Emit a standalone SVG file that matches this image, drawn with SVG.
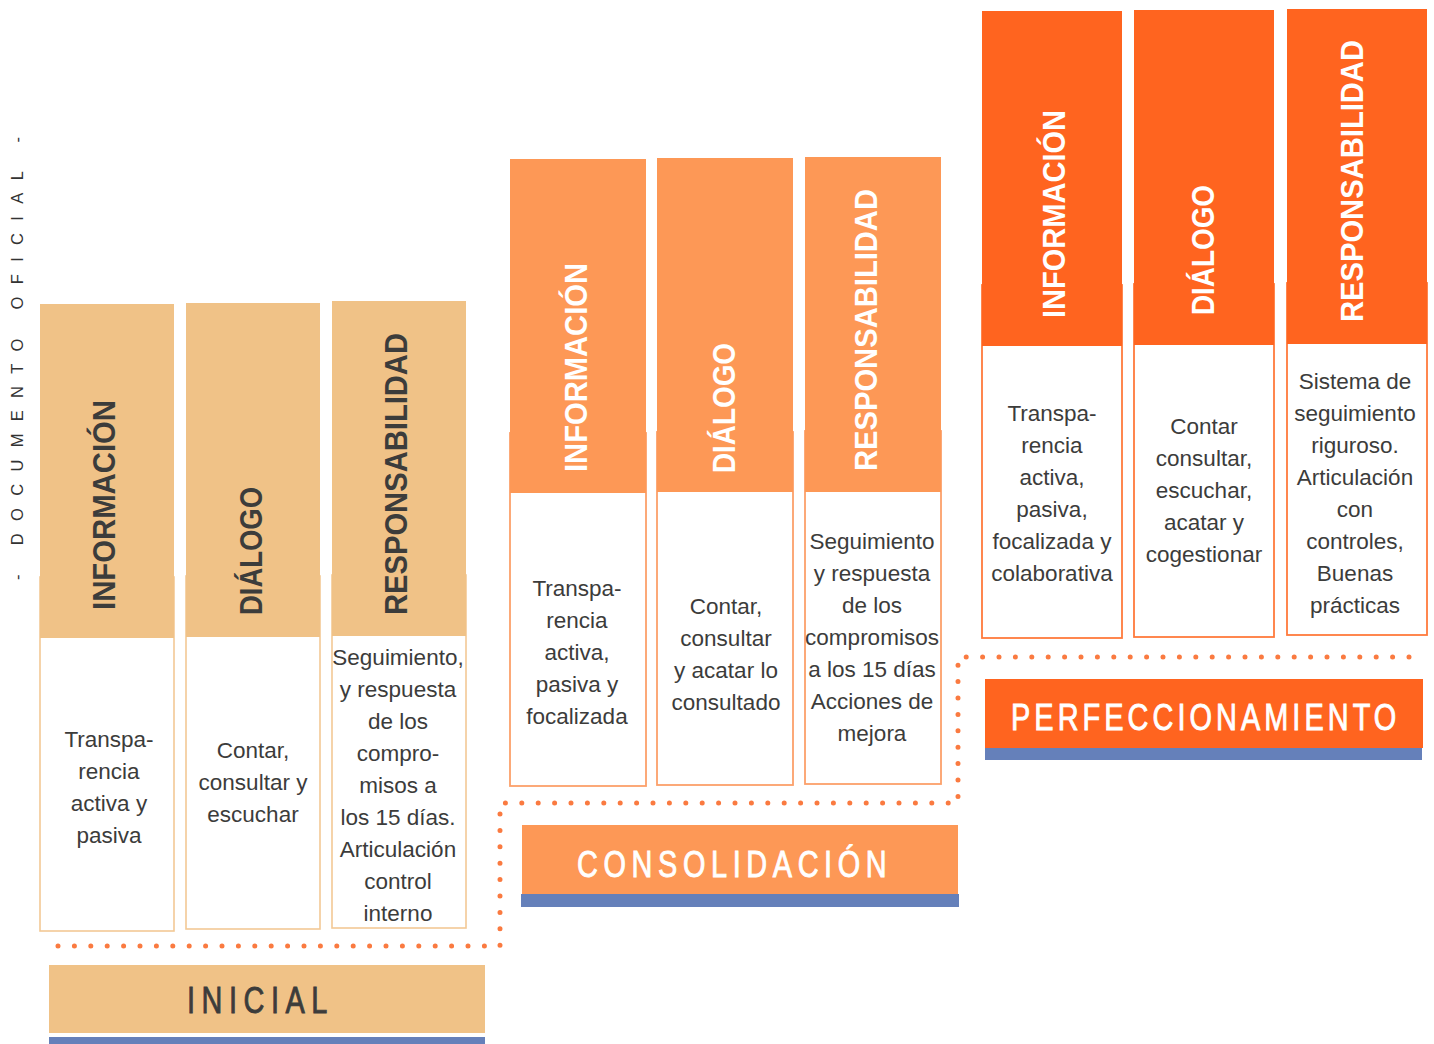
<svg xmlns="http://www.w3.org/2000/svg" width="1434" height="1044" viewBox="0 0 1434 1044">
<style>
.hd{font-family:"Liberation Sans",Arial,sans-serif;font-weight:bold;font-size:32px}
.dk{fill:#3C3C3B}
.wt{fill:#FFFFFF}
.bd{font-family:"Liberation Sans",Arial,sans-serif;font-size:22.5px;fill:#3C3C3B;text-anchor:middle}
.bn{font-family:"Liberation Sans",Arial,sans-serif;font-size:37px;stroke-width:0.9px}
.bn.dk{stroke:#3C3C3B}
.bn.wt{stroke:#FFFFFF}
.b1{fill:#FFFFFF;stroke:#F3C995;stroke-width:1.6}
.b2{fill:#FFFFFF;stroke:#FCA06A;stroke-width:1.8}
.b3{fill:#FFFFFF;stroke:#FF7A3C;stroke-width:1.8}
.h1{fill:#F0C287}
.h2{fill:#FD9856}
.h3{fill:#FF641F}
.blue{fill:#6580BA}
</style>
<rect width="1434" height="1044" fill="#FFFFFF"/>

<text transform="translate(23,580) rotate(-90)" font-family="Liberation Sans,Arial,sans-serif" font-size="16.5" fill="#333333" textLength="443" lengthAdjust="spacing">- DOCUMENTO OFICIAL -</text>

<g id="connectors">
<path d="M58,946 H500 V803 H958 V657 H1422" fill="none" stroke="#FA7A40" stroke-width="5" stroke-linecap="round" stroke-dasharray="0 16.4"/>
</g>

<!-- INICIAL -->
<g id="ini-info">
<rect class="b1" x="40" y="577" width="134" height="354"/>
<rect class="h1" x="40" y="304" width="134" height="334"/>
<text class="hd dk" transform="translate(115,610) rotate(-90)" textLength="210" lengthAdjust="spacingAndGlyphs">INFORMACIÓN</text>
<text class="bd" x="109"><tspan x="109" y="747">Transpa-</tspan><tspan x="109" y="779">rencia</tspan><tspan x="109" y="811">activa y</tspan><tspan x="109" y="843">pasiva</tspan></text>
</g>
<g id="ini-dialogo">
<rect class="b1" x="186" y="576" width="134" height="353"/>
<rect class="h1" x="186" y="303" width="134" height="334"/>
<text class="hd dk" transform="translate(262,615) rotate(-90)" textLength="128" lengthAdjust="spacingAndGlyphs">DIÁLOGO</text>
<text class="bd"><tspan x="253" y="758">Contar,</tspan><tspan x="253" y="790">consultar y</tspan><tspan x="253" y="822">escuchar</tspan></text>
</g>
<g id="ini-resp">
<rect class="b1" x="332" y="575" width="134" height="353"/>
<rect class="h1" x="332" y="301" width="134" height="335"/>
<text class="hd dk" transform="translate(407,615) rotate(-90)" textLength="282" lengthAdjust="spacingAndGlyphs">RESPONSABILIDAD</text>
<text class="bd"><tspan x="398" y="665">Seguimiento,</tspan><tspan x="398" y="697">y respuesta</tspan><tspan x="398" y="729">de los</tspan><tspan x="398" y="761">compro-</tspan><tspan x="398" y="793">misos a</tspan><tspan x="398" y="825">los 15 días.</tspan><tspan x="398" y="857">Articulación</tspan><tspan x="398" y="889">control</tspan><tspan x="398" y="921">interno</tspan></text>
</g>
<g id="ini-banner">
<rect class="h1" x="49" y="965" width="436" height="68"/>
<rect class="blue" x="49" y="1037" width="436" height="8"/>
<text class="bn dk" transform="translate(187,1013) scale(0.78,1)" x="0" y="0" textLength="180" lengthAdjust="spacing">INICIAL</text>
</g>

<!-- CONSOLIDACION -->
<g id="con-info">
<rect class="b2" x="510" y="433" width="136" height="353"/>
<rect class="h2" x="510" y="159" width="136" height="334"/>
<text class="hd wt" transform="translate(587,472) rotate(-90)" textLength="209" lengthAdjust="spacingAndGlyphs">INFORMACIÓN</text>
<text class="bd"><tspan x="577" y="596">Transpa-</tspan><tspan x="577" y="628">rencia</tspan><tspan x="577" y="660">activa,</tspan><tspan x="577" y="692">pasiva y</tspan><tspan x="577" y="724">focalizada</tspan></text>
</g>
<g id="con-dialogo">
<rect class="b2" x="657" y="432" width="136" height="353"/>
<rect class="h2" x="657" y="158" width="136" height="334"/>
<text class="hd wt" transform="translate(735,473) rotate(-90)" textLength="130" lengthAdjust="spacingAndGlyphs">DIÁLOGO</text>
<text class="bd"><tspan x="726" y="614">Contar,</tspan><tspan x="726" y="646">consultar</tspan><tspan x="726" y="678">y acatar lo</tspan><tspan x="726" y="710">consultado</tspan></text>
</g>
<g id="con-resp">
<rect class="b2" x="805" y="431" width="136" height="353"/>
<rect class="h2" x="805" y="157" width="136" height="335"/>
<text class="hd wt" transform="translate(877,471) rotate(-90)" textLength="282" lengthAdjust="spacingAndGlyphs">RESPONSABILIDAD</text>
<text class="bd"><tspan x="872" y="549">Seguimiento</tspan><tspan x="872" y="581">y respuesta</tspan><tspan x="872" y="613">de los</tspan><tspan x="872" y="645">compromisos</tspan><tspan x="872" y="677">a los 15 días</tspan><tspan x="872" y="709">Acciones de</tspan><tspan x="872" y="741">mejora</tspan></text>
</g>
<g id="con-banner">
<rect class="h2" x="522" y="825" width="436" height="69"/>
<rect class="blue" x="521" y="894" width="438" height="13"/>
<text class="bn wt" transform="translate(577,877) scale(0.78,1)" x="0" y="0" font-size="38" textLength="397" lengthAdjust="spacing">CONSOLIDACIÓN</text>
</g>

<!-- PERFECCIONAMIENTO -->
<g id="per-info">
<rect class="b3" x="982" y="285" width="140" height="353"/>
<rect class="h3" x="982" y="11" width="140" height="335"/>
<text class="hd wt" transform="translate(1065,318) rotate(-90)" textLength="208" lengthAdjust="spacingAndGlyphs">INFORMACIÓN</text>
<text class="bd"><tspan x="1052" y="421">Transpa-</tspan><tspan x="1052" y="453">rencia</tspan><tspan x="1052" y="485">activa,</tspan><tspan x="1052" y="517">pasiva,</tspan><tspan x="1052" y="549">focalizada y</tspan><tspan x="1052" y="581">colaborativa</tspan></text>
</g>
<g id="per-dialogo">
<rect class="b3" x="1134" y="284" width="140" height="353"/>
<rect class="h3" x="1134" y="10" width="140" height="335"/>
<text class="hd wt" transform="translate(1214,315) rotate(-90)" textLength="130" lengthAdjust="spacingAndGlyphs">DIÁLOGO</text>
<text class="bd"><tspan x="1204" y="434">Contar</tspan><tspan x="1204" y="466">consultar,</tspan><tspan x="1204" y="498">escuchar,</tspan><tspan x="1204" y="530">acatar y</tspan><tspan x="1204" y="562">cogestionar</tspan></text>
</g>
<g id="per-resp">
<rect class="b3" x="1287" y="283" width="140" height="352"/>
<rect class="h3" x="1287" y="9" width="140" height="335"/>
<text class="hd wt" transform="translate(1363,322) rotate(-90)" textLength="282" lengthAdjust="spacingAndGlyphs">RESPONSABILIDAD</text>
<text class="bd"><tspan x="1355" y="389">Sistema de</tspan><tspan x="1355" y="421">seguimiento</tspan><tspan x="1355" y="453">riguroso.</tspan><tspan x="1355" y="485">Articulación</tspan><tspan x="1355" y="517">con</tspan><tspan x="1355" y="549">controles,</tspan><tspan x="1355" y="581">Buenas</tspan><tspan x="1355" y="613">prácticas</tspan></text>
</g>
<g id="per-banner">
<rect class="h3" x="985" y="679" width="438" height="69"/>
<rect class="blue" x="985" y="748" width="437" height="12"/>
<text class="bn wt" transform="translate(1011,730) scale(0.78,1)" x="0" y="0" textLength="494" lengthAdjust="spacing">PERFECCIONAMIENTO</text>
</g>
</svg>
